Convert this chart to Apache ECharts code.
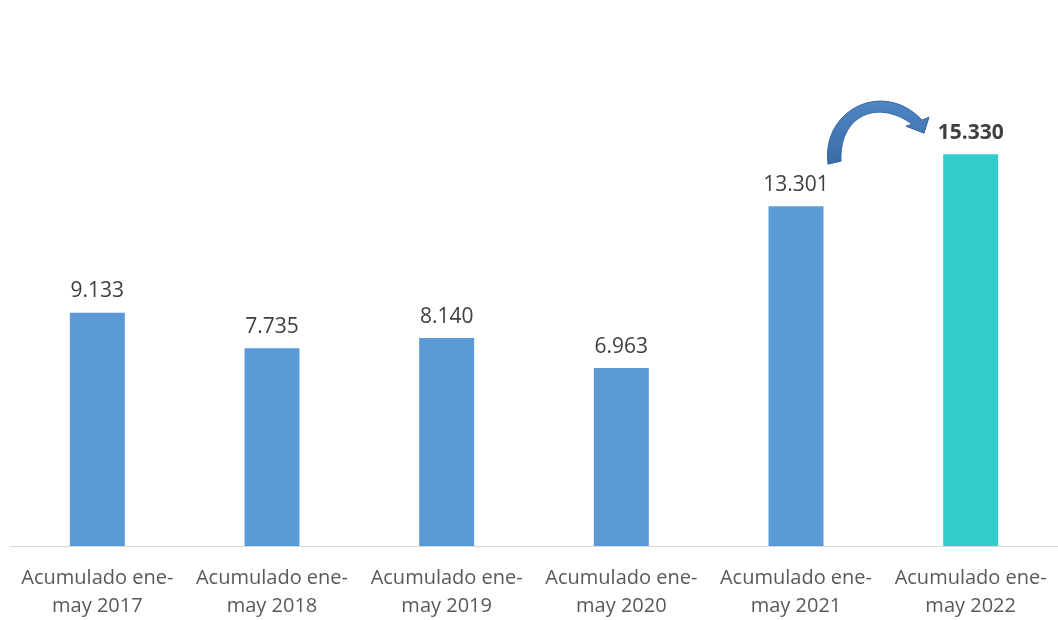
<!DOCTYPE html>
<html><head><meta charset="utf-8">
<script src="https://cdn.jsdelivr.net/npm/echarts@6/dist/echarts.min.js"></script>
<style>html,body{margin:0;padding:0;background:#fff}#c{width:1058px;height:620px}</style>
</head><body><div id="c"></div>
<script>
const categories = ['Acumulado ene-\nmay 2017','Acumulado ene-\nmay 2018','Acumulado ene-\nmay 2019','Acumulado ene-\nmay 2020','Acumulado ene-\nmay 2021','Acumulado ene-\nmay 2022'];
const values = [9133, 7735, 8140, 6963, 13301, 15330];
const valueLabels = ['9.133','7.735','8.140','6.963','13.301','15.330'];

const chart = echarts.init(document.getElementById('c'));
const data = values.map((v,i)=>({
  value: v,
  itemStyle: {color: i===values.length-1 ? '#33CCCC' : '#5B9BD5'},
  label: i===values.length-1 ? {fontWeight:'bold'} : {}
}));
chart.setOption({
  animation:false,
  grid:{left:10,right:0,top:35,bottom:70},
  xAxis:{type:'category',data:categories,
    axisLine:{lineStyle:{color:'#D9D9D9',width:1}},axisTick:{show:false},
    axisLabel:{color:'#595959',fontSize:20,fontFamily:'Open Sans',lineHeight:28,margin:18,interval:0}},
  yAxis:{type:'value',min:0,max:20000,show:false,splitLine:{show:false}},
  series:[{type:'bar',data:data,barWidth:55,
    label:{show:true,position:'top',distance:11,color:'#404040',fontSize:21,fontFamily:'Open Sans',
      formatter:p=>valueLabels[p.dataIndex]}}]
});

// decorative curved arrow from the 2021 label to the 2022 label
const a = chart.convertToPixel({gridIndex:0},[4, values[4]]);
function bez(p0,p1,p2,p3,t){const u=1-t;return [u*u*u*p0[0]+3*u*u*t*p1[0]+3*u*t*t*p2[0]+t*t*t*p3[0],u*u*u*p0[1]+3*u*u*t*p1[1]+3*u*t*t*p2[1]+t*t*t*p3[1]];}
const o = (dx,dy)=>[a[0]+dx,a[1]+dy];
const P = [o(32,-42),o(25,-97),o(88,-127),o(126,-86)];
const Q = [o(116,-82),o(83,-107),o(43,-92),o(45,-45)];
const pts = [];
for(let i=0;i<=30;i++) pts.push(bez(P[0],P[1],P[2],P[3],i/30));
pts.push(o(133,-89)); pts.push(o(128,-73)); pts.push(o(110,-80));
for(let i=0;i<=30;i++) pts.push(bez(Q[0],Q[1],Q[2],Q[3],i/30));
chart.setOption({graphic:[{type:'polygon',shape:{points:pts},
  style:{fill:new echarts.graphic.LinearGradient(0,0,0,1,[{offset:0,color:'#4F86C6'},{offset:1,color:'#3A6BA5'}]),stroke:'#3465A0',lineWidth:1}}]});
</script></body></html>
